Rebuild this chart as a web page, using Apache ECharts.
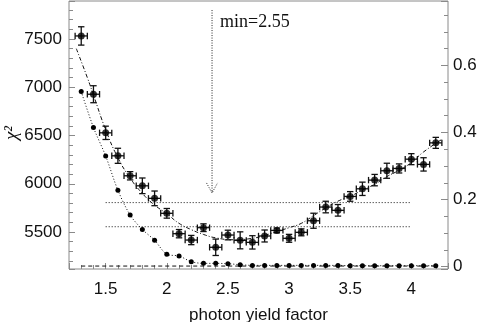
<!DOCTYPE html>
<html>
<head>
<meta charset="utf-8">
<script src="https://cdn.jsdelivr.net/npm/echarts@6/dist/echarts.min.js"></script>
<style>
  html, body { margin: 0; padding: 0; background: #fff; }
  #chart { width: 478px; height: 322px; }
</style>
</head>
<body>
<div id="chart"></div>
<script>
// Photon yield scan: chi2 per setting with uncertainties
const factor = [1.3, 1.4, 1.5, 1.6, 1.7, 1.8, 1.9, 2.0, 2.1, 2.2,
                2.3, 2.4, 2.5, 2.6, 2.7, 2.8, 2.9, 3.0, 3.1, 3.2,
                3.3, 3.4, 3.5, 3.6, 3.7, 3.8, 3.9, 4.0, 4.1, 4.2];
const chi2 = [7532, 6928, 6528, 6290, 6083, 5979, 5849, 5694, 5483, 5417,
              5545, 5342, 5469, 5414, 5393, 5459, 5517, 5435, 5497, 5617,
              5759, 5725, 5869, 5948, 6038, 6135, 6159, 6255, 6201, 6424];
const chi2Err = [95, 88, 69, 78, 43, 81, 76, 50, 43, 48,
                 40, 85, 50, 88, 69, 62, 25, 41, 36, 78,
                 60, 60, 50, 69, 59, 78, 47, 57, 69, 57];
const factorErr = 0.05;

// smooth fit through the chi2 points
const fitFactor = [1.26, 1.35, 1.4, 1.5, 1.6, 1.7, 1.8, 1.9, 2.0, 2.1,
                   2.2, 2.3, 2.4, 2.55, 2.7, 2.8, 2.9, 3.0, 3.1, 3.2,
                   3.3, 3.4, 3.5, 3.6, 3.7, 3.8, 3.9, 4.0, 4.1, 4.25];
const fitChi2 = [7400, 7100, 6920, 6560, 6270, 6060, 5900, 5780, 5690, 5590,
                 5525, 5475, 5440, 5420, 5435, 5465, 5505, 5545, 5590, 5670,
                 5750, 5820, 5870, 5935, 5995, 6075, 6140, 6220, 6330, 6460];

// probability per setting (right axis)
const probability = [0.522, 0.415, 0.330, 0.228, 0.154, 0.111, 0.079, 0.037, 0.032, 0.015,
                     0.010, 0.010, 0.009, 0.006, 0.004, 0.004, 0.004, 0.004, 0.004, 0.004,
                     0.004, 0.004, 0.003, 0.003, 0.003, 0.003, 0.003, 0.003, 0.003, 0.003];
const probBaseFactor = [1.3, 4.2];
const probBaseValue = [0.002, 0.002];

// reference chi2 levels
const levelFactor = [1.5, 4.0];
const levelChi2 = [5805, 5555];

// arrow marking the minimum
const arrowFactor = 2.37;
const arrowChi2 = [7800, 5905];
const minText = 'min=2.55';

const xTicks = { min: 1.2, max: 4.3, minor: 0.1, major: 0.5 };
const yLeftTicks = { min: 5117, max: 7894, minor: 100, major: 500 };
const yRightTicks = { min: -0.0068, max: 0.792, minor: 0.05, major: 0.2 };

const AXIS_GREY = '#8a8a8a';
const SANS = '"Liberation Sans", Arial, sans-serif';
const SERIF = '"Liberation Serif", "Times New Roman", serif';

function isMultiple(v, step) {
  const r = v / step;
  return Math.abs(r - Math.round(r)) < 1e-6;
}
function fmt(step, digits) {
  return function (v) {
    if (!isMultiple(v, step)) return '';
    return String(+v.toFixed(digits));
  };
}

function valueAxis(range, step, opts) {
  return Object.assign({
    type: 'value',
    min: range.min, max: range.max,
    minInterval: step, maxInterval: step,
    splitNumber: Math.round((range.max - range.min) / step),
    axisLine: { show: false, onZero: false },
    splitLine: { show: false },
    axisLabel: { show: false },
    axisTick: { show: true, inside: true, length: 4, lineStyle: { color: AXIS_GREY, width: 1 } }
  }, opts);
}

const chart = echarts.init(document.getElementById('chart'), null, { renderer: 'canvas' });

const xAxis = [
  valueAxis(xTicks, xTicks.minor, { position: 'bottom', axisTick: { show: true, inside: true, length: 4, lineStyle: { color: AXIS_GREY } } }),
  valueAxis(xTicks, xTicks.major, {
    position: 'bottom',
    axisTick: { show: true, inside: true, length: 6, lineStyle: { color: AXIS_GREY } },
    axisLabel: { show: true, margin: 12, color: '#111', fontFamily: SANS, fontSize: 17, formatter: fmt(xTicks.major, 1) },
    name: 'photon yield factor', nameLocation: 'middle', nameGap: 38,
    nameTextStyle: { color: '#111', fontFamily: SANS, fontSize: 17 }
  })
];

const yAxis = [
  valueAxis(yLeftTicks, yLeftTicks.minor, { position: 'left' }),
  valueAxis(yLeftTicks, yLeftTicks.major, {
    position: 'left',
    axisTick: { show: true, inside: true, length: 6, lineStyle: { color: AXIS_GREY } },
    axisLabel: { show: true, margin: 7, color: '#111', fontFamily: SANS, fontSize: 17, formatter: fmt(yLeftTicks.major, 0) }
  }),
  valueAxis(yRightTicks, yRightTicks.minor, { position: 'right' }),
  valueAxis(yRightTicks, yRightTicks.major, {
    position: 'right',
    axisTick: { show: true, inside: true, length: 7, lineStyle: { color: AXIS_GREY } },
    axisLabel: { show: true, margin: 5, color: '#111', fontFamily: SANS, fontSize: 17, formatter: fmt(yRightTicks.major, 1) }
  })
];

function errorBarItem(params, api) {
  const x = api.value(0), y = api.value(1), e = api.value(2);
  const c = api.coord([x, y]);
  const l = api.coord([x - factorErr, y]);
  const r = api.coord([x + factorErr, y]);
  const t = api.coord([x, y + e]);
  const b = api.coord([x, y - e]);
  const style = { stroke: '#111', lineWidth: 1.3, fill: null };
  const cap = 3.2;
  const seg = (x1, y1, x2, y2) => ({ type: 'line', shape: { x1, y1, x2, y2 }, style });
  return {
    type: 'group',
    children: [
      seg(l[0], c[1], r[0], c[1]),
      seg(l[0], c[1] - cap, l[0], c[1] + cap),
      seg(r[0], c[1] - cap, r[0], c[1] + cap),
      seg(c[0], t[1], c[0], b[1]),
      seg(c[0] - cap, t[1], c[0] + cap, t[1]),
      seg(c[0] - cap, b[1], c[0] + cap, b[1])
    ]
  };
}

function arrowItem(params, api) {
  const x = api.value(0);
  const top = api.coord([x, api.value(1)]);
  const tip = api.coord([x, api.value(2)]);
  const style = { stroke: '#222', lineWidth: 1, lineDash: [1, 1.5], fill: null };
  return {
    type: 'group',
    children: [
      { type: 'line', shape: { x1: top[0], y1: top[1], x2: tip[0], y2: tip[1] }, style },
      { type: 'polyline', shape: { points: [[tip[0] - 5.5, tip[1] - 10], [tip[0], tip[1]], [tip[0] + 5.5, tip[1] - 10]] }, style }
    ]
  };
}

const pairs = (xs, ys) => xs.map((v, i) => [v, ys[i]]);

const series = [
  {
    type: 'line', name: 'fit', xAxisIndex: 0, yAxisIndex: 0,
    data: pairs(fitFactor, fitChi2), smooth: true, showSymbol: false, silent: true,
    lineStyle: { color: '#111', width: 1, type: [4, 2, 1, 2] }, z: 2
  },
  {
    type: 'line', name: 'probability', xAxisIndex: 0, yAxisIndex: 2,
    data: pairs(factor, probability), smooth: 0.3,
    symbol: 'circle', symbolSize: 5, itemStyle: { color: '#000' },
    lineStyle: { color: '#111', width: 1, type: [1, 2] }, z: 3
  },
  {
    type: 'line', name: 'probability base', xAxisIndex: 0, yAxisIndex: 2,
    data: pairs(probBaseFactor, probBaseValue), showSymbol: false,
    lineStyle: { color: '#111', width: 1, type: [4, 3] }, z: 2
  },
  {
    type: 'line', name: 'upper level', xAxisIndex: 0, yAxisIndex: 0,
    data: pairs(levelFactor, [levelChi2[0], levelChi2[0]]), showSymbol: false,
    lineStyle: { color: '#111', width: 1, type: [1, 2] }, z: 2
  },
  {
    type: 'line', name: 'lower level', xAxisIndex: 0, yAxisIndex: 0,
    data: pairs(levelFactor, [levelChi2[1], levelChi2[1]]), showSymbol: false,
    lineStyle: { color: '#111', width: 1, type: [1, 2] }, z: 2
  },
  {
    type: 'custom', name: 'chi2 errors', xAxisIndex: 0, yAxisIndex: 0,
    data: factor.map((f, i) => [f, chi2[i], chi2Err[i]]),
    renderItem: errorBarItem, z: 4
  },
  {
    type: 'scatter', name: 'chi2', xAxisIndex: 0, yAxisIndex: 0,
    data: pairs(factor, chi2), symbol: 'circle', symbolSize: 7,
    itemStyle: { color: '#000' }, z: 5
  },
  {
    type: 'custom', name: 'minimum', xAxisIndex: 0, yAxisIndex: 0,
    data: [[arrowFactor, arrowChi2[0], arrowChi2[1]]],
    renderItem: arrowItem, z: 3
  }
];

chart.setOption({
  animation: false,
  backgroundColor: '#fff',
  grid: {
    left: 69, right: 30, top: 1, bottom: 53,
    outerBoundsMode: 'none', containLabel: false,
    show: true, borderColor: AXIS_GREY, borderWidth: 1, backgroundColor: 'transparent'
  },
  xAxis, yAxis, series,
  graphic: [
    {
      type: 'text', x: 12, y: 133, rotation: Math.PI / 2,
      style: { text: 'χ²', font: 'italic 19px ' + SERIF, fill: '#111', align: 'center', verticalAlign: 'middle' }
    },
    {
      type: 'text', x: 220, y: 22,
      style: { text: minText, font: '18px ' + SERIF, fill: '#111', align: 'left', verticalAlign: 'middle' }
    }
  ]
});
</script>
</body>
</html>
